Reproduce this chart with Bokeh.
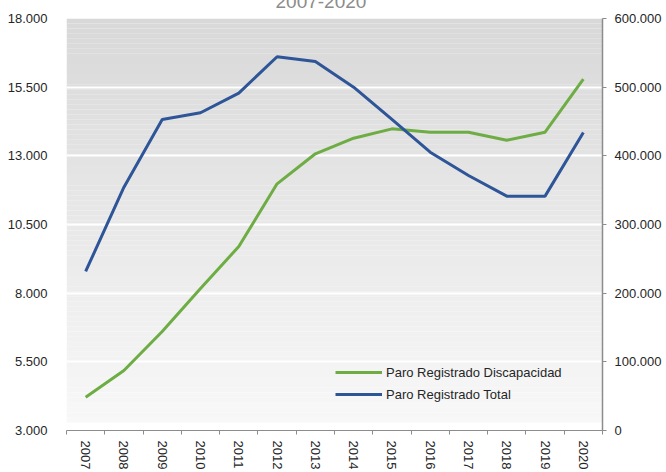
from bokeh.plotting import figure
from bokeh.models import Range1d, LinearAxis, FixedTicker, Legend, LegendItem, ColumnDataSource
from bokeh.embed import file_html
from bokeh.resources import INLINE
import numpy as np

# ---- data ----
years = [str(y) for y in range(2007, 2021)]
discapacidad = [4212, 5184, 6604, 8169, 9699, 11981, 13074, 13642, 13983, 13861, 13861, 13569, 13861, 15790]
total = [231600, 354400, 453000, 462700, 491300, 544300, 537400, 500000, 453000, 405300, 371400, 341300, 341300, 434000]
left_ticks = [3000, 5500, 8000, 10500, 13000, 15500, 18000]
right_ticks = [0, 100000, 200000, 300000, 400000, 500000, 600000]
title_text = "2007-2020"
name_disc = "Paro Registrado Discapacidad"
name_total = "Paro Registrado Total"

GREEN = "#6DAD44"
BLUE = "#2E5597"
FONT = "Liberation Sans"
TXT = "#262626"
AXIS = "#8C8C8C"


def fmt(v):
    return "{:,}".format(v).replace(",", ".")


n = len(years)
xs = [i + 0.5 for i in range(n)]

SHIFT = 30
p = figure(width=666, height=472 + SHIFT, output_backend="svg", toolbar_location=None,
           x_range=Range1d(0, n), y_range=Range1d(left_ticks[0], left_ticks[-1]),
           min_border_left=66, min_border_right=64, min_border_top=18 + SHIFT,
           min_border_bottom=42, x_axis_location=None, y_axis_location=None)
p.styles = {"margin-top": "-%dpx" % SHIFT}
p.outline_line_color = None
p.background_fill_color = "white"
p.border_fill_color = "white"

p.title.text = title_text
p.title.align = "left"
p.title.offset = 209
p.title.standoff = 22
p.title.text_font = FONT
p.title.text_font_size = "19px"
p.title.text_font_style = "normal"
p.title.text_color = "#8C8C8C"

# gradient background (ends a little above the axis)
nb = 80
g_bottom = left_ticks[0] + (left_ticks[-1] - left_ticks[0]) * 8.0 / 412
edges = np.linspace(g_bottom, left_ticks[-1], nb + 1)
cols = []
for k in range(nb):
    t = (k + 0.5) / nb
    c = int(round(248 - (248 - 216) * t))
    cols.append("#%02x%02x%02x" % (c, c, c))
bg = p.quad(left=0, right=n, bottom=edges[:-1], top=edges[1:], fill_color=cols, line_color=None)
bg.level = "image"

p.extra_y_ranges = {"right": Range1d(right_ticks[0], right_ticks[-1])}

# axes
xa = LinearAxis(ticker=FixedTicker(ticks=xs, minor_ticks=list(range(n + 1))))
xa.major_label_overrides = {x: y for x, y in zip(xs, years)}
xa.major_label_orientation = -np.pi / 2
xa.major_tick_out = 0
xa.major_tick_in = 0
xa.minor_tick_out = 4
xa.minor_tick_in = 0
xa.minor_tick_line_color = AXIS
xa.axis_line_color = AXIS
xa.axis_line_width = 1
xa.major_label_standoff = 6
xa.major_label_text_font = FONT
xa.major_label_text_font_size = "13px"
xa.major_label_text_color = TXT
p.add_layout(xa, "below")

ya = LinearAxis(ticker=FixedTicker(ticks=left_ticks))
ya.major_label_overrides = {v: fmt(v) for v in left_ticks}
ya.axis_line_color = None
ya.major_tick_line_color = None
ya.minor_tick_line_color = None
ya.major_label_standoff = 13
ya.major_label_text_font = FONT
ya.major_label_text_font_size = "13px"
ya.major_label_text_color = TXT
p.add_layout(ya, "left")

ra = LinearAxis(y_range_name="right", ticker=FixedTicker(ticks=right_ticks))
ra.major_label_overrides = {v: fmt(v) for v in right_ticks}
ra.axis_line_color = AXIS
ra.axis_line_width = 1.5
ra.major_tick_line_color = AXIS
ra.major_tick_out = 4
ra.major_tick_in = 0
ra.minor_tick_line_color = None
ra.major_label_standoff = 8
ra.major_label_text_font = FONT
ra.major_label_text_font_size = "13px"
ra.major_label_text_color = TXT
p.add_layout(ra, "right")

# grid
p.xgrid.visible = False
p.ygrid.ticker = FixedTicker(ticks=left_ticks[1:-1])
p.ygrid.grid_line_color = "white"
p.ygrid.grid_line_width = 2

src = ColumnDataSource(dict(x=xs, disc=discapacidad, tot=total))
r1 = p.line("x", "disc", source=src, line_color=GREEN, line_width=3)
r2 = p.line("x", "tot", source=src, y_range_name="right", line_color=BLUE, line_width=3)

legend = Legend(items=[LegendItem(label=name_disc, renderers=[r1]),
                       LegendItem(label=name_total, renderers=[r2])],
                location=(269, 26))
legend.background_fill_alpha = 0
legend.border_line_color = None
legend.padding = 0
legend.margin = 0
legend.spacing = 2
legend.label_height = 20
legend.glyph_height = 20
legend.glyph_width = 47
legend.label_standoff = 4
legend.label_text_font = FONT
legend.label_text_font_size = "13px"
legend.label_text_color = TXT
p.add_layout(legend)

open("out.html", "w").write(file_html(p, INLINE))
